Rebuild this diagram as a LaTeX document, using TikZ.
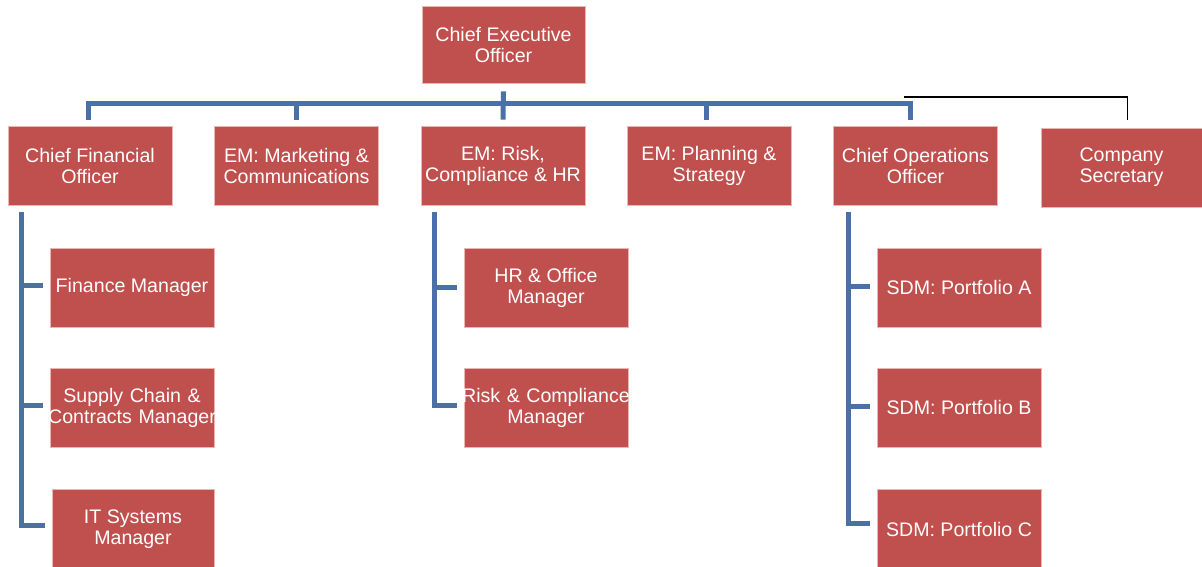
\documentclass[tikz,border=0pt]{standalone}
\usepackage{fontspec}
\setmainfont{Liberation Sans}
\definecolor{boxred}{HTML}{C0504D}
\definecolor{boxedge}{HTML}{EBB5B3}
\definecolor{linkblue}{HTML}{4A70A6}
\newcommand{\wideline}[1]{\makebox[0pt]{#1}}
\begin{document}
\begin{tikzpicture}[x=1pt,y=-1pt,
  box/.style={rectangle, fill=boxred, draw=boxedge, line width=0.8pt, text=white,
    minimum width=164pt, minimum height=79pt, inner sep=0pt, align=center,
    font=\fontsize{19.6pt}{21pt}\selectfont},
  fixedbox/.style={box, text width=164pt},
  link/.style={draw=linkblue, line width=5pt},
  plain/.style={draw=black, line width=1.4pt}]
\useasboundingbox (0,0) rectangle (1202,567);
% level 0
\node[box, minimum width=163pt, minimum height=77pt] (ceo) at (503.5,44.5) {Chief Executive\\Officer};
% level 1
\node[box] (cfo)  at (90,165.5)   {Chief Financial\\Officer};
\node[box] (mkt)  at (296.5,165.5) {EM: Marketing \&\\Communications};
\node[box] (risk) at (503,165.5)  {EM: Risk,\\Compliance \& HR};
\node[box] (plan) at (709,165.5)  {EM: Planning \&\\Strategy};
\node[box] (coo)  at (915.5,165.5) {Chief Operations\\Officer};
\node[box, minimum width=161pt] (sec) at (1121.5,167.5) {Company\\Secretary};
% level 2
\node[box] (fin) at (132,287.5) {Finance Manager};
\node[fixedbox] (sup) at (132,407.5) {\wideline{Supply Chain \&}\\\wideline{Contracts Manager}};
\node[box, minimum width=162pt] (it) at (133,529) {IT Systems\\Manager};
\node[box] (hr)  at (546,287.5) {HR \& Office\\Manager};
\node[fixedbox] (rcm) at (546,407.5) {\wideline{Risk \& Compliance}\\\wideline{Manager}};
\node[box] (sa)  at (959,287.5) {SDM: Portfolio A};
\node[box] (sb)  at (959,407.5) {SDM: Portfolio B};
\node[box] (sc)  at (959,529)   {SDM: Portfolio C};
% helper coordinates
\coordinate (bus) at (503,104);
\coordinate (sbus) at (904,97);
\coordinate (cfoline) at ([xshift=14pt]cfo.south west);
\coordinate (riskline) at ([xshift=14pt]risk.south west);
\coordinate (cooline) at ([xshift=15pt]coo.south west);
% top bus
\draw[link] ([xshift=-2pt,yshift=6pt]cfo.north) -- ([xshift=-2pt]cfo.north |- bus)
  -- ([xshift=-5pt]coo.north |- bus) -- ([xshift=-5pt,yshift=6pt]coo.north);
\draw[link] ([yshift=6pt]mkt.north) -- (mkt.north |- bus);
\draw[link] ([xshift=-3pt,yshift=6pt]plan.north) -- ([xshift=-3pt]plan.north |- bus);
\draw[link] ([yshift=-8pt]ceo.south) -- ([yshift=6pt]risk.north);
% company secretary
\draw[plain] (sbus) -| ([xshift=6pt,yshift=8pt]sec.north);
% CFO branch
\draw[link] ([yshift=-7pt]cfoline) |- ([xshift=-7pt,yshift=4pt]it.west);
\draw[link] ([xshift=-7pt,yshift=2pt]fin.west) -- ([yshift=2pt]fin.west -| cfoline);
\draw[link] ([xshift=-7pt,yshift=2pt]sup.west) -- ([yshift=2pt]sup.west -| cfoline);
% risk branch
\draw[link] ([yshift=-7pt]riskline) |- ([xshift=-7pt,yshift=2pt]rcm.west);
\draw[link] ([xshift=-7pt]hr.west) -- (hr.west -| riskline);
% COO branch
\draw[link] ([yshift=-7pt]cooline) |- ([xshift=-7pt,yshift=6pt]sc.west);
\draw[link] ([xshift=-7pt,yshift=1pt]sa.west) -- ([yshift=1pt]sa.west -| cooline);
\draw[link] ([xshift=-7pt,yshift=1pt]sb.west) -- ([yshift=1pt]sb.west -| cooline);
\end{tikzpicture}
\end{document}
